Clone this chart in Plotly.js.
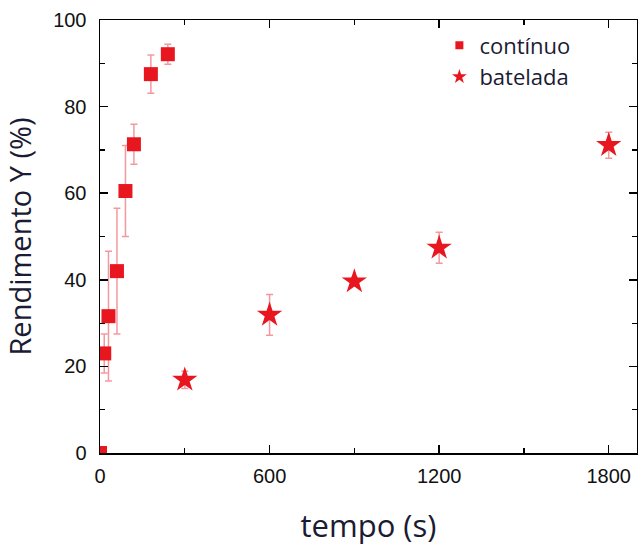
<!DOCTYPE html>
<html>
<head>
<meta charset="utf-8">
<script src="https://cdn.plot.ly/plotly-3.0.1.min.js"></script>
<style>
  html, body { margin: 0; padding: 0; background: #ffffff; }
  #chart { width: 638px; height: 550px; }
</style>
</head>
<body>
<div id="chart"></div>
<script>
// Continuous (contínuo) series
const contTime = [0, 15, 30, 60, 90, 120, 180, 240];
const contYield = [0, 23, 31.6, 42, 60.5, 71.3, 87.5, 92.1];
const contErr = [0, 4.5, 15, 14.5, 10.5, 4.6, 4.4, 2.3];

// Batch (batelada) series
const batchTime = [300, 600, 900, 1200, 1800];
const batchYield = [16.9, 31.9, 39.6, 47.4, 71.1];
const batchErr = [2, 4.7, 1, 3.6, 3];

const legendNames = ['contínuo', 'batelada'];
const xTickVals = [0, 600, 1200, 1800];
const xTickText = ['0', '600', '1200', '1800'];
const yTickVals = [0, 20, 40, 60, 80, 100];

const red = '#e8161e';
const errColor = 'rgba(236,110,120,0.7)';

const traces = [
  {
    x: contTime, y: contYield, type: 'scatter', mode: 'markers',
    showlegend: false, cliponaxis: true,
    marker: { symbol: 'square', size: 14, color: red },
    error_y: { type: 'data', array: contErr, visible: true, color: errColor, thickness: 1.5, width: 3.5 }
  },
  {
    x: batchTime, y: batchYield, type: 'scatter', mode: 'markers',
    showlegend: false, cliponaxis: false,
    marker: { symbol: 'star', size: 19, color: red },
    error_y: { type: 'data', array: batchErr, visible: true, color: errColor, thickness: 1.5, width: 3.5 }
  },
  {
    x: [null], y: [null], type: 'scatter', mode: 'markers', name: legendNames[0],
    marker: { symbol: 'square', size: 8, color: red }
  },
  {
    x: [null], y: [null], type: 'scatter', mode: 'markers', name: legendNames[1],
    marker: { symbol: 'star', size: 11, color: red }
  }
];

const layout = {
  width: 638, height: 550,
  margin: { l: 100, r: 1, t: 20, b: 97 },
  paper_bgcolor: '#ffffff', plot_bgcolor: '#ffffff',
  showlegend: true,
  legend: {
    x: 0.632, y: 0.99, xanchor: 'left', yanchor: 'top',
    bgcolor: 'rgba(0,0,0,0)', borderwidth: 0,
    font: { family: 'Open Sans, sans-serif', size: 22, color: '#1b1b33' },
    itemwidth: 30, tracegroupgap: 0
  },
  xaxis: {
    range: [0, 1900],
    tickmode: 'array', tickvals: xTickVals, ticktext: xTickText,
    ticks: 'inside', ticklen: 8, tickwidth: 1.5, tickcolor: '#000',
    minor: { ticks: 'inside', ticklen: 5, dtick: 300, tick0: 0, tickcolor: '#000', tickwidth: 1.2, showgrid: false },
    showline: true, linecolor: '#000', linewidth: 1.5, mirror: 'ticks',
    showgrid: false, zeroline: false,
    ticklabelstandoff: 4,
    tickfont: { family: 'Liberation Sans, Arial, sans-serif', size: 20, color: '#111' },
    title: { text: 'tempo (s)', font: { family: 'Open Sans, sans-serif', size: 31, color: '#1b1b33' }, standoff: 30 }
  },
  yaxis: {
    range: [0, 100],
    tickmode: 'array', tickvals: yTickVals,
    ticks: 'inside', ticklen: 8, tickwidth: 1.5, tickcolor: '#000',
    minor: { ticks: 'inside', ticklen: 5, dtick: 10, tick0: 0, tickcolor: '#000', tickwidth: 1.2, showgrid: false },
    showline: true, linecolor: '#000', linewidth: 1.5, mirror: 'ticks',
    showgrid: false, zeroline: false,
    ticklabelstandoff: 8,
    tickfont: { family: 'Liberation Sans, Arial, sans-serif', size: 20, color: '#111' },
    title: { text: 'Rendimento Y (%)', font: { family: 'Open Sans, sans-serif', size: 29, color: '#1b1b33' }, standoff: 16 }
  }
};

Plotly.newPlot('chart', traces, layout, { displayModeBar: false, staticPlot: true });
</script>
</body>
</html>
